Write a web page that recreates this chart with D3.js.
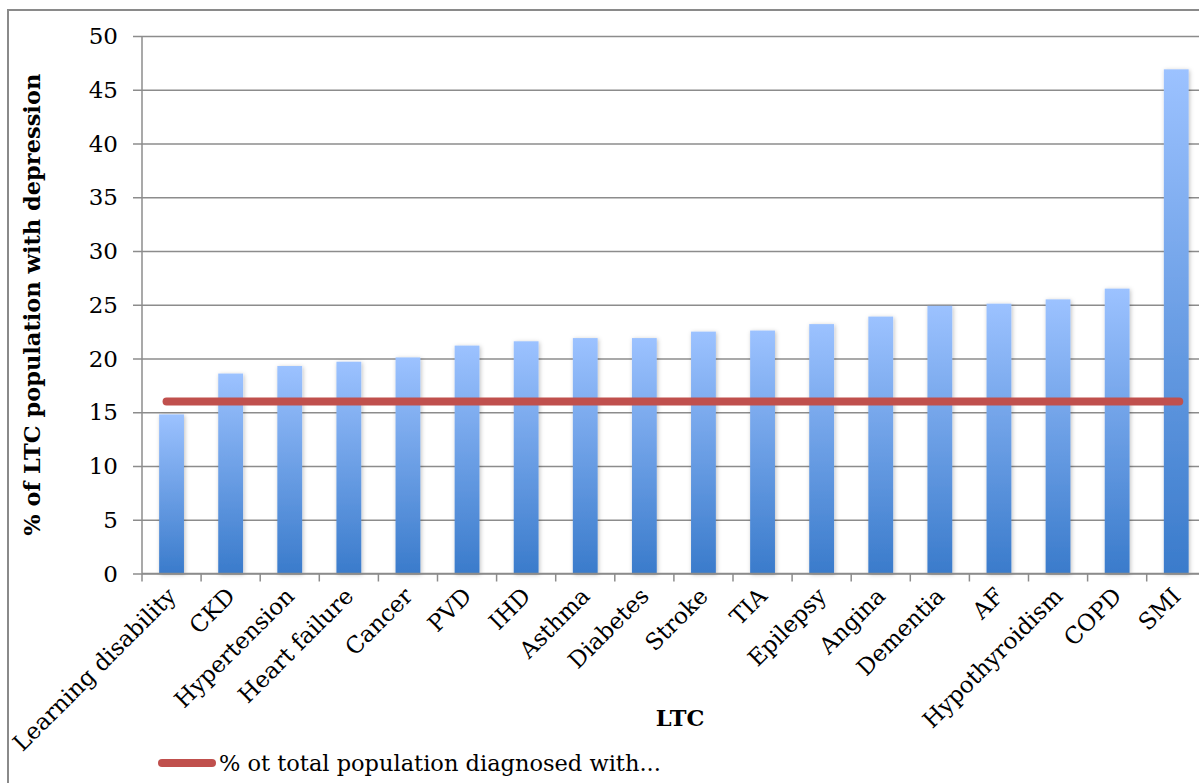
<!DOCTYPE html>
<html>
<head>
<meta charset="utf-8">
<script src="https://cdn.jsdelivr.net/npm/d3@7"></script>
<style>
  body { margin: 0; background: #fff; }
  svg { display: block; font-family: "DejaVu Serif", serif; }
</style>
</head>
<body>
<svg width="1199" height="783"></svg>
<script>
const categories = ['Learning disability', 'CKD', 'Hypertension', 'Heart failure', 'Cancer', 'PVD', 'IHD',
  'Asthma', 'Diabetes', 'Stroke', 'TIA', 'Epilepsy', 'Angina', 'Dementia', 'AF', 'Hypothyroidism', 'COPD', 'SMI'];
const values = [14.8, 18.6, 19.3, 19.7, 20.1, 21.2, 21.6, 21.9, 21.9, 22.5, 22.6, 23.2, 23.9, 24.9, 25.1, 25.5, 26.5, 46.9];
const populationRate = 16;
const yTicks = [0, 5, 10, 15, 20, 25, 30, 35, 40, 45, 50];

const svg = d3.select('svg');

// outer border of the chart box
svg.append('rect')
  .attr('x', 8).attr('y', 10)
  .attr('width', 1300).attr('height', 900)
  .attr('fill', 'none')
  .attr('stroke', '#8a8a8a')
  .attr('stroke-width', 2);

const plotLeft = 142, plotTop = 36, plotBottom = 573.5;
const xScale = d3.scaleBand()
  .domain(categories)
  .range([plotLeft, plotLeft + 18 * 59.1])
  .paddingInner(0.58)
  .paddingOuter(0.29);

const yScale = d3.scaleLinear()
  .domain([0, 50])
  .range([plotBottom, plotTop]);

const defs = svg.append('defs');
const grad = defs.append('linearGradient')
  .attr('id', 'barGrad')
  .attr('x1', 0).attr('y1', 0).attr('x2', 0).attr('y2', 1);
grad.append('stop').attr('offset', '0%').attr('stop-color', '#9cc2ff');
grad.append('stop').attr('offset', '100%').attr('stop-color', '#3a7bcb');

const shadow = defs.append('filter').attr('id', 'shadow')
  .attr('x', '-30%').attr('y', '-5%').attr('width', '160%').attr('height', '115%');
shadow.append('feDropShadow')
  .attr('dx', 1).attr('dy', 1).attr('stdDeviation', 2)
  .attr('flood-color', '#000').attr('flood-opacity', 0.25);

// gridlines
svg.append('g')
  .attr('transform', `translate(${plotLeft},0)`)
  .call(d3.axisLeft(yScale).tickValues(yTicks).tickSize(-(1199 - plotLeft + 20)).tickFormat(''))
  .call(g => g.select('.domain').remove())
  .call(g => g.selectAll('line').attr('stroke', '#8c8c8c').attr('stroke-width', 1.5).attr('x1', -9));

// y tick labels
svg.append('g')
  .selectAll('text')
  .data(yTicks)
  .enter()
  .append('text')
  .attr('x', 118)
  .attr('y', d => yScale(d))
  .attr('dy', '0.35em')
  .attr('text-anchor', 'end')
  .attr('font-size', 23)
  .text(d => d);

// y axis line
svg.append('line')
  .attr('x1', plotLeft).attr('x2', plotLeft)
  .attr('y1', plotTop).attr('y2', plotBottom)
  .attr('stroke', '#8c8c8c').attr('stroke-width', 1.5);

// bars
svg.append('g')
  .selectAll('rect')
  .data(values)
  .enter()
  .append('rect')
  .attr('x', (d, i) => xScale(categories[i]))
  .attr('y', d => yScale(d))
  .attr('width', xScale.bandwidth())
  .attr('height', d => plotBottom - yScale(d))
  .attr('fill', 'url(#barGrad)')
  .attr('filter', 'url(#shadow)');

// x axis with ticks at band boundaries
const step = xScale.step();
svg.append('line')
  .attr('x1', plotLeft).attr('x2', 1199)
  .attr('y1', plotBottom).attr('y2', plotBottom)
  .attr('stroke', '#8c8c8c').attr('stroke-width', 1.5);
svg.append('g')
  .selectAll('line')
  .data(d3.range(categories.length + 1))
  .enter()
  .append('line')
  .attr('x1', i => plotLeft + i * step)
  .attr('x2', i => plotLeft + i * step)
  .attr('y1', plotBottom).attr('y2', plotBottom + 8)
  .attr('stroke', '#8c8c8c').attr('stroke-width', 1.5);

// x labels rotated
svg.append('g')
  .selectAll('text')
  .data(categories)
  .enter()
  .append('text')
  .attr('transform', d => `translate(${xScale(d) + xScale.bandwidth() / 2 + 6},${plotBottom + 24}) rotate(-45)`)
  .attr('text-anchor', 'end')
  .attr('font-size', 23)
  .text(d => d);

// population line
const x0 = xScale(categories[0]) + xScale.bandwidth() / 2 - 5;
const x1 = xScale(categories[categories.length - 1]) + xScale.bandwidth() / 2 + 3;
svg.append('line')
  .attr('x1', x0).attr('x2', x1)
  .attr('y1', yScale(populationRate)).attr('y2', yScale(populationRate))
  .attr('stroke', '#c0504d')
  .attr('stroke-width', 8)
  .attr('stroke-linecap', 'round');

// axis titles
svg.append('text')
  .attr('transform', `translate(40,${(plotTop + plotBottom) / 2}) rotate(-90)`)
  .attr('text-anchor', 'middle')
  .attr('font-weight', 'bold')
  .attr('font-size', 22.5)
  .text('% of LTC population with depression');

svg.append('text')
  .attr('x', 680).attr('y', 726)
  .attr('text-anchor', 'middle')
  .attr('font-weight', 'bold')
  .attr('font-size', 22.5)
  .text('LTC');

// legend
svg.append('line')
  .attr('x1', 162).attr('x2', 212)
  .attr('y1', 763).attr('y2', 763)
  .attr('stroke', '#c0504d')
  .attr('stroke-width', 8)
  .attr('stroke-linecap', 'round');
svg.append('text')
  .attr('x', 219).attr('y', 771)
  .attr('font-size', 22.5)
  .text('% ot total population diagnosed with...');
</script>
</body>
</html>
